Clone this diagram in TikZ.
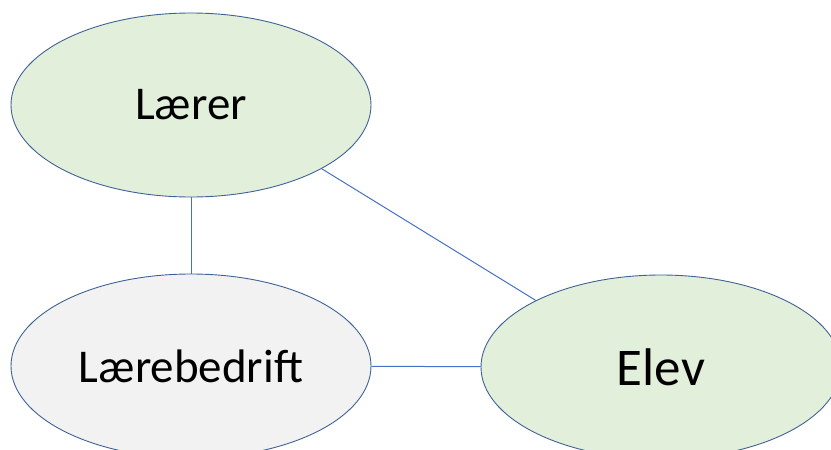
\documentclass[tikz,border=0pt]{standalone}
\usepackage{fontspec}
\setmainfont{Carlito}
\usetikzlibrary{shapes.geometric}
\definecolor{outline}{HTML}{3F6296}
\definecolor{linkblue}{HTML}{4472C4}
\definecolor{softgreen}{HTML}{E2EFDA}
\definecolor{softgrey}{HTML}{F2F2F2}
\tikzset{
  role/.style={ellipse, draw=outline, line width=0.9pt, inner sep=0pt,
    minimum width=360pt, minimum height=184pt, text=black,
    font=\fontsize{47}{51}\selectfont},
  link/.style={draw=linkblue, line width=1pt}
}
\begin{document}
\begin{tikzpicture}[x=1pt, y=-1pt]
  \useasboundingbox (0,0) rectangle (831,450);
  \begin{scope}
    \clip (0,0) rectangle (831,450);
    \node[role, fill=softgreen] (laerer) at (191,105) {Lærer};
    \node[role, fill=softgrey] (bedrift) at (191,366) {Lærebedrift};
    \node[role, fill=softgreen, font=\fontsize{53}{57}\selectfont] (elev) at (661,367) {Elev};
    \draw[link] (laerer) -- (bedrift);
    \draw[link] (laerer.-26.7) -- (elev.152.4);
    \draw[link] (bedrift) -- (elev);
  \end{scope}
\end{tikzpicture}
\end{document}
